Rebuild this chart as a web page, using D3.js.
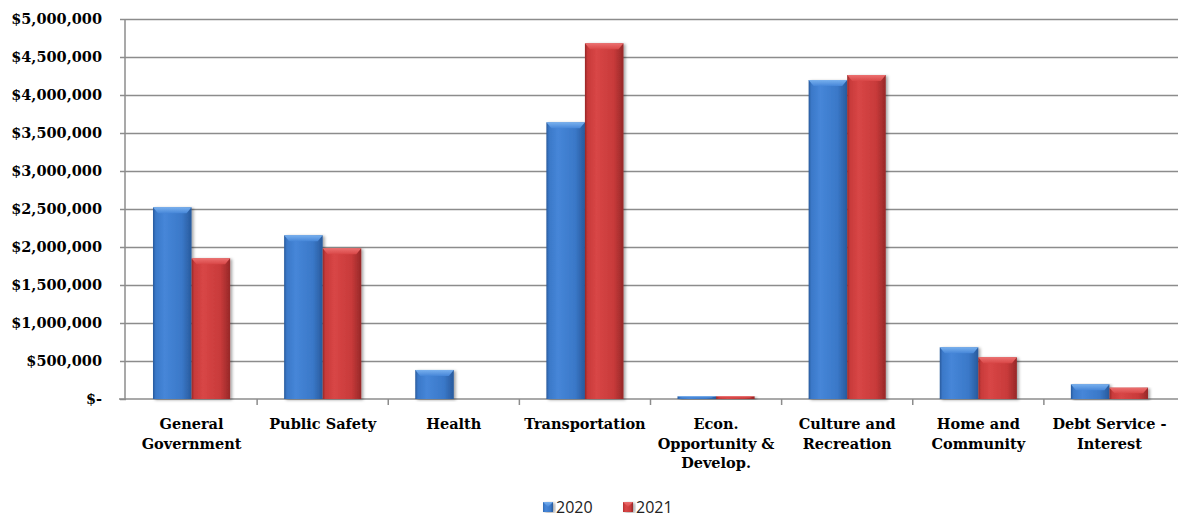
<!DOCTYPE html>
<html>
<head>
<meta charset="utf-8">
<script src="https://cdn.jsdelivr.net/npm/d3@7"></script>
<style>
  html, body { margin: 0; padding: 0; background: #fff; }
  #vis-display { width: 1187px; height: 518px; }
</style>
</head>
<body>
<div id="vis-display"></div>
<script>
// Grouped 3D-look bars: expenditures by function, 2020 vs 2021.

const CATEGORIES = [
  ["General", "Government"],
  ["Public Safety"],
  ["Health"],
  ["Transportation"],
  ["Econ.", "Opportunity &", "Develop."],
  ["Culture and", "Recreation"],
  ["Home and", "Community"],
  ["Debt Service -", "Interest"],
];

const SERIES = ["2020", "2021"];

const VALUES_2020 = [2522000, 2154000, 382000, 3640000, 35000, 4197000, 680000, 193000];
const VALUES_2021 = [1851000, 1983000, 0, 4680000, 35000, 4263000, 549000, 149000];

const Y_TICKS = [0, 500000, 1000000, 1500000, 2000000, 2500000, 3000000, 3500000, 4000000, 4500000, 5000000];

const PALETTE = {
  "2020": { light: "#4686d8", mid: "#3a78c8", dark: "#285a9c", top: "#78b0ee" },
  "2021": { light: "#d84646", mid: "#c83a3a", dark: "#962828", top: "#ec7070" },
};

const W = 1187, H = 518;
const margin = { top: 19, right: 9, bottom: 119, left: 126 };
const innerW = W - margin.left - margin.right;
const innerH = H - margin.top - margin.bottom;

const serif = "'DejaVu Serif', 'Liberation Serif', serif";

const svg = d3.select("#vis-display").append("svg")
  .attr("width", W)
  .attr("height", H);

// ── Gradients ───────────────────────────────────────────────────────────────

const defs = svg.append("defs");
SERIES.forEach(s => {
  const c = PALETTE[s];
  const side = defs.append("linearGradient")
    .attr("id", "side-" + s).attr("x1", 0).attr("x2", 1).attr("y1", 0).attr("y2", 0);
  side.append("stop").attr("offset", "0%").attr("stop-color", c.dark);
  side.append("stop").attr("offset", "7%").attr("stop-color", c.mid);
  side.append("stop").attr("offset", "30%").attr("stop-color", c.light);
  side.append("stop").attr("offset", "75%").attr("stop-color", c.mid);
  side.append("stop").attr("offset", "100%").attr("stop-color", c.dark);

  const top = defs.append("linearGradient")
    .attr("id", "top-" + s).attr("x1", 0).attr("x2", 0).attr("y1", 0).attr("y2", 1);
  top.append("stop").attr("offset", "0%").attr("stop-color", c.top);
  top.append("stop").attr("offset", "100%").attr("stop-color", c.light);
});

const shadow = defs.append("filter").attr("id", "shadow")
  .attr("x", "-20%").attr("y", "-5%").attr("width", "150%").attr("height", "115%");
shadow.append("feDropShadow")
  .attr("dx", 2).attr("dy", 1).attr("stdDeviation", 1.5)
  .attr("flood-color", "#000").attr("flood-opacity", 0.35);

const g = svg.append("g")
  .attr("transform", `translate(${margin.left},${margin.top})`);

// ── Scales ──────────────────────────────────────────────────────────────────

const keys = CATEGORIES.map(c => c.join(" "));

const x0 = d3.scaleBand()
  .domain(keys)
  .range([0, innerW - 3])
  .padding(0);

const x1 = d3.scaleBand()
  .domain(SERIES)
  .range([0, x0.bandwidth()])
  .paddingInner(0)
  .paddingOuter(0.7);

const y = d3.scaleLinear()
  .domain([0, 5000000])
  .range([innerH, 0]);

// ── Grid & y axis ───────────────────────────────────────────────────────────

const fmt = d => d === 0 ? "$-" : "$" + d3.format(",")(d);

g.append("g")
  .call(d3.axisLeft(y).tickValues(Y_TICKS).tickFormat(fmt).tickSize(6).tickPadding(18))
  .call(ax => ax.select(".domain").attr("stroke", "#8c8c8c").attr("stroke-width", 1.5)
    .attr("d", `M-1,${innerH}V0`))
  .call(ax => ax.selectAll(".tick line").attr("stroke", "#8c8c8c").attr("stroke-width", 1.5))
  .call(ax => ax.selectAll(".tick").filter(d => d > 0).append("line")
    .attr("x1", 0).attr("x2", innerW).attr("stroke", "#8c8c8c").attr("stroke-width", 1.5))
  .selectAll("text")
    .style("font-family", serif)
    .style("font-weight", "bold")
    .style("font-size", "14.5px")
    .style("fill", "#000");

// ── X axis ──────────────────────────────────────────────────────────────────

const xAxis = g.append("g").attr("transform", `translate(0,${innerH})`);
xAxis.append("line")
  .attr("x1", -7).attr("x2", innerW)
  .attr("stroke", "#8c8c8c").attr("stroke-width", 1.5);
xAxis.selectAll("line.tick")
  .data(keys.slice(1))
  .join("line")
    .attr("class", "tick")
    .attr("x1", d => x0(d)).attr("x2", d => x0(d))
    .attr("y1", 0).attr("y2", 6)
    .attr("stroke", "#8c8c8c").attr("stroke-width", 1.5);

xAxis.selectAll("text")
  .data(CATEGORIES)
  .join("text")
    .attr("x", (d, i) => x0(keys[i]) + x0.bandwidth() / 2)
    .attr("y", 30)
    .attr("text-anchor", "middle")
    .style("font-family", serif)
    .style("font-weight", "bold")
    .style("font-size", "14.5px")
    .style("fill", "#000")
    .selectAll("tspan")
    .data(d => d)
    .join("tspan")
      .attr("x", function() { return this.parentNode.getAttribute("x"); })
      .attr("dy", (d, i) => i === 0 ? 0 : 19.5)
      .text(d => d);

// ── Bars ────────────────────────────────────────────────────────────────────

const rows = keys.map((k, i) => ({ key: k, "2020": VALUES_2020[i], "2021": VALUES_2021[i] }));

function drawBar(sel, s, x, w, yTop, yBot) {
  const h = yBot - yTop;
  if (h <= 0) return;
  const bev = Math.min(6, h / 2);
  const b = sel.append("g").attr("filter", "url(#shadow)");
  b.append("rect")
    .attr("x", x).attr("y", yTop).attr("width", w).attr("height", h)
    .attr("fill", `url(#side-${s})`);
  b.append("path")
    .attr("d", `M${x},${yTop}H${x + w}L${x + w - 5},${yTop + bev}H${x + 5}Z`)
    .attr("fill", `url(#top-${s})`);
}

const groups = g.append("g")
  .selectAll("g")
  .data(rows)
  .join("g")
    .attr("transform", d => `translate(${x0(d.key)},0)`);

groups.each(function(d) {
  const sel = d3.select(this);
  SERIES.forEach(s => {
    drawBar(sel, s, x1(s), x1.bandwidth(), y(d[s]), y(0));
  });
});

// ── Legend ──────────────────────────────────────────────────────────────────

const legend = svg.append("g").attr("transform", "translate(543,502)");
const items = legend.selectAll("g")
  .data(SERIES)
  .join("g")
    .attr("transform", (d, i) => `translate(${i * 80},0)`);
items.each(function(s) {
  drawBar(d3.select(this), s, 0, 10, 0, 10);
});
items.append("text")
  .attr("x", 13)
  .attr("y", 11)
  .style("font-family", "'Open Sans', 'Noto Sans', sans-serif")
  .style("font-size", "16px")
  .style("fill", "#222")
  .text(d => d);
</script>
</body>
</html>
